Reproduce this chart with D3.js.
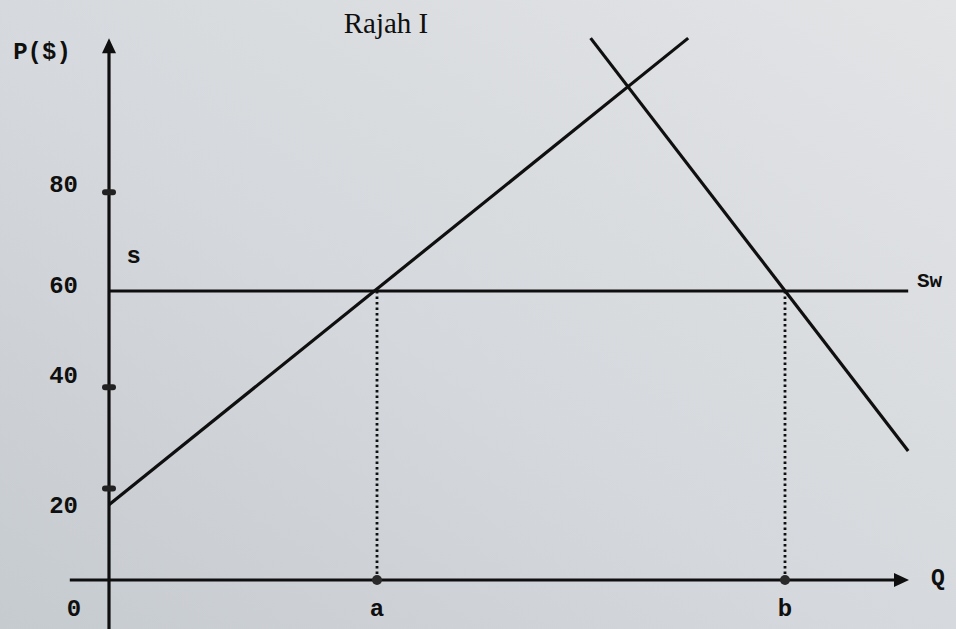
<!DOCTYPE html>
<html>
<head>
<meta charset="utf-8">
<script src="https://cdn.jsdelivr.net/npm/d3@7"></script>
<style>
  html, body { margin: 0; padding: 0; background: #d8dbde; }
  svg { display: block; }
</style>
</head>
<body>
<svg id="chart" width="956" height="629"></svg>
<script>
// ---- data ----
const title = "Rajah I";
const yAxisLabel = "P($)";
const xAxisLabel = "Q";
const priceTickLabels = ["80", "60", "40", "20"];
const priceTickLabelAt = [82.4, 61.3, 42.6, 15.6];
const priceTickDots = [80.5, 40, 19];
const worldPrice = 60;
const worldSupplyLabel = "Sw";
const domesticSupplyLabel = "s";
const supplyQ = [0, 72.4];
const supplyP = [15.6, 112.5];
const demandQ = [60.2, 99.9];
const demandP = [112.5, 26.8];
const worldQ = [0, 99.9];
const quantityMarks = ["a", "b"];
const quantityValues = [33.5, 84.5];

// ---- scales ----
const x = d3.scaleLinear().domain([0, 100]).range([109, 909]);
const y = d3.scaleLinear().domain([0, 60]).range([580, 291]);

const svg = d3.select("#chart");

// paper background
const defs = svg.append("defs");
const g1 = defs.append("linearGradient").attr("id", "paper").attr("x1", "0").attr("y1", "1").attr("x2", "1").attr("y2", "0");
g1.append("stop").attr("offset", "0").attr("stop-color", "#c6cbcf");
g1.append("stop").attr("offset", "0.45").attr("stop-color", "#d5d8dc");
g1.append("stop").attr("offset", "1").attr("stop-color", "#e2e4e6");
svg.append("rect").attr("width", 956).attr("height", 629).attr("fill", "url(#paper)");

const ink = "#0f0f0f";
const mono = "'Liberation Mono', 'DejaVu Sans Mono', monospace";

// title
svg.append("text").attr("x", 386).attr("y", 33).attr("text-anchor", "middle")
  .attr("font-family", "'Liberation Serif', 'DejaVu Serif', serif")
  .attr("font-size", 29).attr("fill", ink).text(title);

// axes
const yTop = 112.5, yBottom = -10.2, xLeft = -4.9, xRight = 100;
svg.append("line").attr("x1", x(0)).attr("x2", x(0))
  .attr("y1", y(yTop) + 10).attr("y2", y(yBottom))
  .attr("stroke", ink).attr("stroke-width", 3.2);
svg.append("path")
  .attr("d", `M${x(0)},${y(yTop)} L${x(0) - 7},${y(yTop) + 15} L${x(0) + 7},${y(yTop) + 15} Z`)
  .attr("fill", ink);
svg.append("line").attr("x1", x(xLeft)).attr("x2", x(xRight) - 10)
  .attr("y1", y(0)).attr("y2", y(0))
  .attr("stroke", ink).attr("stroke-width", 3.2);
svg.append("path")
  .attr("d", `M${x(xRight)},${y(0)} L${x(xRight) - 15},${y(0) - 7} L${x(xRight) - 15},${y(0) + 7} Z`)
  .attr("fill", ink);

// tick dots on price axis
svg.selectAll("rect.tick").data(priceTickDots).join("rect").attr("class", "tick")
  .attr("x", x(0) - 7).attr("y", d => y(d) - 3)
  .attr("width", 14).attr("height", 6).attr("rx", 3).attr("fill", "#222");

const labelStyle = sel => sel.attr("font-family", mono).attr("font-weight", "bold")
  .attr("fill", ink).attr("dy", "0.35em");

// price labels
svg.selectAll("text.plab").data(priceTickLabels).join("text").attr("class", "plab")
  .attr("x", 78).attr("y", (d, i) => y(priceTickLabelAt[i]))
  .attr("text-anchor", "end").attr("font-size", 24)
  .call(labelStyle).text(d => d);

// origin label
svg.append("text").attr("x", 74).attr("y", y(-5.8))
  .attr("text-anchor", "middle").attr("font-size", 24)
  .call(labelStyle).text("0");

// axis titles
svg.append("text").attr("x", 42).attr("y", y(110))
  .attr("text-anchor", "middle").attr("font-size", 24)
  .call(labelStyle).text(yAxisLabel);
svg.append("text").attr("x", x(103.6)).attr("y", y(0.6))
  .attr("text-anchor", "middle").attr("font-size", 23)
  .call(labelStyle).text(xAxisLabel);

// world supply line
svg.append("line").attr("x1", x(worldQ[0])).attr("x2", x(worldQ[1]))
  .attr("y1", y(worldPrice)).attr("y2", y(worldPrice))
  .attr("stroke", ink).attr("stroke-width", 3.2);
svg.append("text").attr("x", x(101)).attr("y", y(62.3))
  .attr("font-size", 21).call(labelStyle).text(worldSupplyLabel);

// domestic supply
const line = d3.line().x(d => x(d[0])).y(d => y(d[1]));
svg.append("path").attr("d", line(d3.zip(supplyQ, supplyP)))
  .attr("fill", "none").attr("stroke", ink).attr("stroke-width", 3.2);
svg.append("text").attr("x", x(3.1)).attr("y", y(67.5))
  .attr("text-anchor", "middle").attr("font-size", 24)
  .call(labelStyle).text(domesticSupplyLabel);

// domestic demand
svg.append("path").attr("d", line(d3.zip(demandQ, demandP)))
  .attr("fill", "none").attr("stroke", ink).attr("stroke-width", 3.2);

// dotted drop lines, foot dots and labels
svg.selectAll("line.drop").data(quantityValues).join("line").attr("class", "drop")
  .attr("x1", d => x(d)).attr("x2", d => x(d))
  .attr("y1", y(worldPrice)).attr("y2", y(0))
  .attr("stroke", ink).attr("stroke-width", 2.8).attr("stroke-dasharray", "2.5,3");
svg.selectAll("circle.foot").data(quantityValues).join("circle").attr("class", "foot")
  .attr("cx", d => x(d)).attr("cy", y(0)).attr("r", 5).attr("fill", "#2a2a2a");
svg.selectAll("text.qlab").data(quantityMarks).join("text").attr("class", "qlab")
  .attr("x", (d, i) => x(quantityValues[i])).attr("y", y(-5.8))
  .attr("text-anchor", "middle").attr("font-size", 24)
  .call(labelStyle).text(d => d);
</script>
</body>
</html>
